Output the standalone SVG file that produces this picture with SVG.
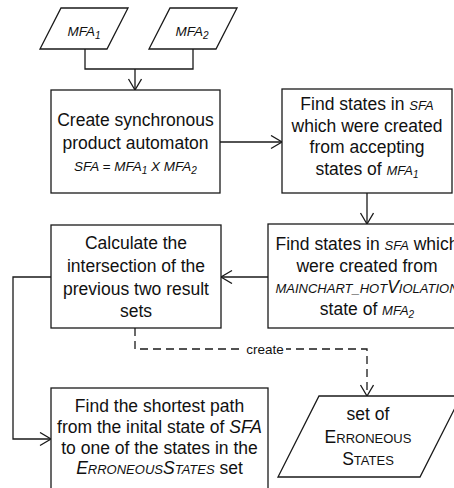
<svg xmlns="http://www.w3.org/2000/svg" width="454" height="488" viewBox="0 0 454 488">
  <style>
    .shape { fill: #fff; stroke: #1a1a1a; stroke-width: 1.3; }
    .wire { fill: none; stroke: #1a1a1a; stroke-width: 1.3; }
    .dash { stroke-dasharray: 8 5; }
    text { font-family: "Liberation Sans", Arial, sans-serif; fill: #111; text-anchor: middle; }
    .t { font-size: 17.5px; }
    .it { font-style: italic; }
    .sc { font-size: 13px; }
    .sub { font-size: 10px; }
    .lbl { font-size: 13.5px; }
  </style>
  <defs>
    <marker id="open-arrow" markerUnits="userSpaceOnUse" markerWidth="14" markerHeight="16" refX="12" refY="7" orient="auto">
      <path d="M1,0.5 L12,7 L1,13.5" fill="none" stroke="#1a1a1a" stroke-width="1.3"/>
    </marker>
  </defs>

  <rect width="454" height="488" fill="#fff"/>

  <!-- connectors -->
  <g id="connectors">
    <path class="wire" d="M85,49 V69 H193 V49"/>
    <path class="wire" d="M135,69 V90" marker-end="url(#open-arrow)"/>
    <path class="wire" d="M220,142 H282" marker-end="url(#open-arrow)"/>
    <path class="wire" d="M367,193 V224" marker-end="url(#open-arrow)"/>
    <path class="wire" d="M268,277 H221" marker-end="url(#open-arrow)"/>
    <path class="wire" d="M51,277 H13 V439 H51" marker-end="url(#open-arrow)"/>
    <path class="wire dash" d="M135,328 V349 H367 V396" marker-end="url(#open-arrow)"/>
    <rect x="244" y="341" width="42" height="15" fill="#fff"/>
    <text class="lbl" x="265" y="353.5">create</text>
  </g>

  <!-- inputs -->
  <g id="mfa1">
    <polygon class="shape" points="61,8 128,8 107,49 40,49"/>
    <text class="lbl it" x="84" y="36">MFA<tspan class="sub" dy="3">1</tspan></text>
  </g>
  <g id="mfa2">
    <polygon class="shape" points="170,8 237,8 216,49 149,49"/>
    <text class="lbl it" x="192" y="36">MFA<tspan class="sub" dy="3">2</tspan></text>
  </g>

  <!-- product automaton -->
  <g id="create-product">
    <rect class="shape" x="51" y="90" width="169" height="103"/>
    <text class="t" x="135.5" y="126">Create synchronous</text>
    <text class="t" x="135.5" y="149">product automaton</text>
    <text class="lbl it" x="135.5" y="171">SFA = MFA<tspan class="sub" dy="3">1</tspan><tspan dy="-3"> X MFA</tspan><tspan class="sub" dy="3">2</tspan></text>
  </g>

  <!-- accepting states -->
  <g id="find-accepting">
    <rect class="shape" x="282" y="89" width="170" height="104"/>
    <text class="t" x="367" y="110">Find states in <tspan class="sc it">SFA</tspan></text>
    <text class="t" x="367" y="131.5">which were created</text>
    <text class="t" x="367" y="153">from accepting</text>
    <text class="t" x="367" y="175">states of <tspan class="sc it">MFA</tspan><tspan class="sub it" dy="3">1</tspan></text>
  </g>

  <!-- hot violation states -->
  <g id="find-violation">
    <rect class="shape" x="268" y="224" width="198" height="104"/>
    <text class="t" x="367" y="249.5">Find states in <tspan class="sc it">SFA</tspan> which</text>
    <text class="t" x="367" y="271.5">were created from</text>
    <text class="t it" x="367" y="293"><tspan class="sc">MAINCHART_HOT</tspan>V<tspan class="sc">IOLATION</tspan></text>
    <text class="t" x="367" y="315">state of <tspan class="sc it">MFA</tspan><tspan class="sub it" dy="3">2</tspan></text>
  </g>

  <!-- intersection -->
  <g id="intersection">
    <rect class="shape" x="51" y="225" width="170" height="103"/>
    <text class="t" x="136" y="249">Calculate the</text>
    <text class="t" x="136" y="271.5">intersection of the</text>
    <text class="t" x="136" y="294.5">previous two result</text>
    <text class="t" x="136" y="316.5">sets</text>
  </g>

  <!-- shortest path -->
  <g id="shortest-path">
    <rect class="shape" x="51" y="388" width="217" height="112"/>
    <text class="t" x="159.5" y="412">Find the shortest path</text>
    <text class="t" x="159.5" y="433">from the inital state of <tspan class="it">SFA</tspan></text>
    <text class="t" x="159.5" y="453.5">to one of the states in the</text>
    <text class="t" x="159.5" y="474"><tspan class="it">E<tspan class="sc">RRONEOUS</tspan>S<tspan class="sc">TATES</tspan></tspan> set</text>
  </g>

  <!-- result set -->
  <g id="erroneous-states">
    <polygon class="shape" points="319,396 461,396 420,477 278,477"/>
    <text class="t" x="368" y="420">set of</text>
    <text class="t" x="368" y="443">E<tspan class="sc">RRONEOUS</tspan></text>
    <text class="t" x="368" y="465">S<tspan class="sc">TATES</tspan></text>
  </g>
</svg>
